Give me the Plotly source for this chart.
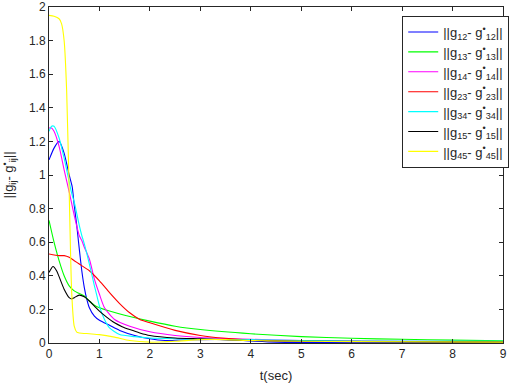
import plotly.graph_objects as go

# Data
t_g12 = [0, 0.1, 0.2, 0.3, 0.4, 0.46, 0.5, 0.55, 0.6, 0.65, 0.7, 0.75, 0.8, 0.9, 1.0, 1.2, 1.4, 1.7, 2.0, 2.3, 2.6, 3.0, 3.5, 4.0, 4.5, 9.0]
y_g12 = [1.09, 1.16, 1.2, 1.13, 1.0, 0.93, 0.82, 0.7, 0.56, 0.43, 0.33, 0.26, 0.21, 0.16, 0.135, 0.105, 0.075, 0.045, 0.025, 0.015, 0.018, 0.02, 0.02, 0.012, 0.005, 0.003]

t_g13 = [0, 0.1, 0.2, 0.3, 0.4, 0.5, 0.6, 0.7, 0.8, 0.9, 1.0, 1.2, 1.5, 2.0, 2.5, 3.0, 4.0, 5.0, 6.0, 7.0, 8.0, 9.0]
y_g13 = [0.73, 0.6, 0.49, 0.4, 0.34, 0.31, 0.295, 0.28, 0.25, 0.225, 0.21, 0.19, 0.165, 0.13, 0.1, 0.08, 0.055, 0.038, 0.028, 0.022, 0.017, 0.013]

t_g14 = [0, 0.05, 0.1, 0.2, 0.3, 0.4, 0.5, 0.6, 0.65, 0.7, 0.8, 0.9, 1.0, 1.1, 1.3, 1.6, 2.0, 2.5, 3.0, 4.0, 5.0, 7.0, 9.0]
y_g14 = [1.28, 1.28, 1.26, 1.17, 1.03, 0.9, 0.76, 0.64, 0.61, 0.57, 0.5, 0.38, 0.29, 0.21, 0.14, 0.1, 0.067, 0.045, 0.033, 0.022, 0.015, 0.01, 0.008]

t_g23 = [0, 0.2, 0.3, 0.4, 0.5, 0.6, 0.8, 1.0, 1.2, 1.4, 1.6, 1.8, 2.0, 2.5, 3.0, 3.5, 4.0, 5.0, 6.0, 9.0]
y_g23 = [0.53, 0.52, 0.52, 0.51, 0.49, 0.47, 0.43, 0.37, 0.3, 0.235, 0.18, 0.14, 0.12, 0.075, 0.045, 0.028, 0.018, 0.012, 0.01, 0.006]

t_g34 = [0, 0.05, 0.1, 0.2, 0.3, 0.4, 0.45, 0.5, 0.6, 0.65, 0.7, 0.8, 0.9, 0.95, 1.0, 1.1, 1.2, 1.4, 1.7, 2.0, 2.5, 3.0, 4.0, 5.0, 6.0, 9.0]
y_g34 = [1.26, 1.29, 1.29, 1.22, 1.1, 0.96, 0.89, 0.84, 0.7, 0.64, 0.59, 0.47, 0.34, 0.28, 0.22, 0.14, 0.09, 0.05, 0.038, 0.03, 0.025, 0.022, 0.02, 0.015, 0.012, 0.01]

t_g15 = [0, 0.08, 0.15, 0.2, 0.3, 0.4, 0.45, 0.5, 0.6, 0.7, 0.8, 0.9, 1.0, 1.13, 1.3, 1.45, 1.6, 1.8, 2.0, 2.5, 3.0, 4.0, 5.0, 9.0]
y_g15 = [0.42, 0.455, 0.43, 0.395, 0.32, 0.27, 0.262, 0.27, 0.285, 0.275, 0.25, 0.22, 0.19, 0.157, 0.12, 0.097, 0.08, 0.06, 0.045, 0.03, 0.025, 0.015, 0.01, 0.005]

t_g45 = [0, 0.1, 0.2, 0.25, 0.3, 0.35, 0.4, 0.45, 0.5, 0.55, 0.6, 0.8, 1.0, 1.3, 1.6, 2.0, 2.5, 3.0, 3.5, 4.0, 5.0, 6.0, 9.0]
y_g45 = [1.95, 1.945, 1.93, 1.9, 1.8, 1.5, 0.9, 0.3, 0.1, 0.065, 0.06, 0.055, 0.05, 0.035, 0.015, 0.005, 0.01, 0.02, 0.02, 0.015, 0.01, 0.008, 0.005]

labels = ["12", "13", "14", "23", "34", "15", "45"]
colors = ["#0000ff", "#00ff00", "#ff00ff", "#ff0000", "#00ffff", "#000000", "#ffff00"]
series = [(t_g12, y_g12), (t_g13, y_g13), (t_g14, y_g14), (t_g23, y_g23),
          (t_g34, y_g34), (t_g15, y_g15), (t_g45, y_g45)]

fig = go.Figure()
for (tt, yy), lab, col in zip(series, labels, colors):
    fig.add_trace(go.Scatter(
        x=tt, y=yy, mode="lines",
        line=dict(color=col, width=1.1, shape="spline", smoothing=0.6),
        name="||g<sub>%s</sub>- g<sup>•</sup><sub>%s</sub>||" % (lab, lab),
    ))

axis_common = dict(
    showgrid=False, zeroline=False, showline=True, mirror="ticks",
    linecolor="#262626", linewidth=1, ticks="inside", ticklen=4,
    tickcolor="#262626", tickfont=dict(size=12, color="#262626"),
    automargin=False, ticklabeloverflow="allow",
)

fig.update_layout(
    width=512, height=383,
    margin=dict(l=49, r=3, t=7, b=40),
    paper_bgcolor="white", plot_bgcolor="white",
    font=dict(family="Liberation Sans, Arial, sans-serif", size=12, color="#262626"),
    xaxis=dict(range=[0, 9], dtick=1,
               title=dict(text="t(sec)", font=dict(size=13)),
               **axis_common),
    yaxis=dict(range=[0, 2], dtick=0.2,
               title=dict(text="||g<sub>ij</sub>- g<sup>•</sup><sub>ij</sub>||", font=dict(size=13)),
               **axis_common),
    legend=dict(x=0.778, y=0.973, xanchor="left", yanchor="top",
                bgcolor="white", bordercolor="#262626", borderwidth=1,
                font=dict(size=13), tracegroupgap=0, itemwidth=30,
                entrywidth=62, entrywidthmode="pixels"),
    showlegend=True,
)

# remove the browser's default 8px body margin so the figure fills the window
fig.write_html("out.html", config={"displayModeBar": False},
               post_script="document.body.style.margin='0';")
